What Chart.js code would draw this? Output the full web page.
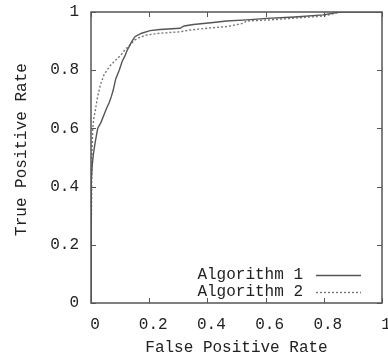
<!DOCTYPE html>
<html><head><meta charset="utf-8">
<script src="https://cdn.jsdelivr.net/npm/chart.js@4/dist/chart.umd.min.js"></script>
<style>html,body{margin:0;padding:0;background:#fff}#wrap{width:388px;height:358px;position:relative}</style>
</head><body><div id="wrap"><canvas id="c" width="388" height="358"></canvas></div>
<script>
const seriesLabels = ['Algorithm 1', 'Algorithm 2'];
const xTitle = 'False Positive Rate';
const yTitle = 'True Positive Rate';
const xTicks = [0, 0.2, 0.4, 0.6, 0.8, 1];
const yTicks = [0, 0.2, 0.4, 0.6, 0.8, 1];

const algo1FPR = [0, 0, 0.002, 0.004, 0.008, 0.014, 0.023, 0.034, 0.046, 0.054, 0.063, 0.07, 0.076, 0.085, 0.097, 0.107, 0.117, 0.125, 0.14, 0.151, 0.174, 0.203, 0.237, 0.306, 0.32, 0.352, 0.42, 0.466, 0.535, 0.604, 0.70, 0.798, 0.856, 1];
const algo1TPR = [0, 0.3, 0.42, 0.47, 0.51, 0.55, 0.60, 0.62, 0.65, 0.67, 0.69, 0.71, 0.73, 0.77, 0.80, 0.83, 0.85, 0.87, 0.898, 0.915, 0.927, 0.936, 0.94, 0.944, 0.952, 0.957, 0.964, 0.969, 0.973, 0.978, 0.983, 0.99, 1.0, 1];

const algo2FPR = [0, 0, 0.002, 0.003, 0.006, 0.009, 0.015, 0.022, 0.033, 0.045, 0.055, 0.068, 0.085, 0.103, 0.118, 0.134, 0.151, 0.168, 0.191, 0.237, 0.306, 0.34, 0.397, 0.466, 0.523, 0.535, 0.615, 0.70, 0.798, 0.856, 1];
const algo2TPR = [0, 0.2, 0.35, 0.5, 0.6, 0.63, 0.663, 0.705, 0.752, 0.785, 0.80, 0.818, 0.835, 0.852, 0.872, 0.887, 0.904, 0.913, 0.921, 0.927, 0.932, 0.938, 0.944, 0.95, 0.961, 0.969, 0.973, 0.979, 0.986, 1.0, 1];

const FONT = '"Liberation Mono", "Courier New", monospace';
const TEXT = '#222';
const FRAME = '#555';

function pts(xs, ys) { return xs.map((x, i) => ({x: x, y: ys[i]})); }
function fmt(v) { return (v === 0 || v === 1) ? String(v) : v.toFixed(1); }
function noPad(s) { s.paddingLeft = 0; s.paddingRight = 0; s.paddingTop = 0; s.paddingBottom = 0; }

const framePlugin = {
  id: 'gnuplotFrame',
  afterDraw(chart) {
    const ctx = chart.ctx, a = chart.chartArea;
    const xs = chart.scales.x, ys = chart.scales.y;
    ctx.save();
    ctx.strokeStyle = FRAME;
    ctx.lineWidth = 1.5;
    ctx.strokeRect(a.left, a.top, a.right - a.left, a.bottom - a.top);
    ctx.lineWidth = 1;
    const tl = 5;
    ctx.beginPath();
    xTicks.forEach(v => {
      const px = Math.round(xs.getPixelForValue(v)) + 0.5;
      ctx.moveTo(px, a.bottom); ctx.lineTo(px, a.bottom - tl);
      ctx.moveTo(px, a.top); ctx.lineTo(px, a.top + tl);
    });
    yTicks.forEach(v => {
      const py = Math.round(ys.getPixelForValue(v)) + 0.5;
      ctx.moveTo(a.left, py); ctx.lineTo(a.left + tl, py);
      ctx.moveTo(a.right, py); ctx.lineTo(a.right - tl, py);
    });
    ctx.stroke();

    ctx.fillStyle = TEXT;
    ctx.font = '16px ' + FONT;
    ctx.textAlign = 'center';
    ctx.textBaseline = 'middle';
    ctx.fillText(xTitle, (a.left + a.right) / 2, chart.height - 10);
    ctx.save();
    ctx.translate(22, (a.top + a.bottom) / 2 - 8);
    ctx.rotate(-Math.PI / 2);
    ctx.fillText(yTitle, 0, 0);
    ctx.restore();

    const sampleEnd = a.right - 21, sampleStart = sampleEnd - 45, textRight = sampleStart - 13;
    chart.data.datasets.forEach((ds, i) => {
      const y = a.bottom - 28 + i * 17;
      ctx.textAlign = 'right';
      ctx.fillStyle = TEXT;
      ctx.fillText(ds.label, textRight, y);
      ctx.strokeStyle = ds.borderColor;
      ctx.lineWidth = ds.borderWidth;
      ctx.setLineDash(ds.borderDash || []);
      ctx.beginPath();
      ctx.moveTo(sampleStart, y + 0.5); ctx.lineTo(sampleEnd, y + 0.5);
      ctx.stroke();
      ctx.setLineDash([]);
    });
    ctx.restore();
  }
};

new Chart(document.getElementById('c'), {
  type: 'scatter',
  data: {
    datasets: [
      { label: seriesLabels[0], data: pts(algo1FPR, algo1TPR), showLine: true, borderColor: '#555', borderWidth: 1.4, pointRadius: 0, tension: 0, fill: false },
      { label: seriesLabels[1], data: pts(algo2FPR, algo2TPR), showLine: true, borderColor: '#777', borderWidth: 1.4, borderDash: [2, 2], pointRadius: 0, tension: 0, fill: false }
    ]
  },
  options: {
    responsive: false,
    animation: false,
    devicePixelRatio: 1,
    layout: { autoPadding: false, padding: { top: 12, right: 6, left: 0, bottom: 0 } },
    plugins: { legend: { display: false }, tooltip: { enabled: false } },
    scales: {
      x: {
        type: 'linear', min: 0, max: 1,
        afterBuildTicks: s => { s.ticks = xTicks.map(v => ({value: v})); },
        afterFit: s => { s.height = 55; noPad(s); },
        grid: { display: false, drawTicks: false },
        border: { display: false },
        ticks: { callback: v => fmt(v), font: { family: FONT, size: 16 }, color: TEXT, padding: 12, labelOffset: 4, maxRotation: 0, autoSkip: false }
      },
      y: {
        type: 'linear', min: 0, max: 1,
        afterBuildTicks: s => { s.ticks = yTicks.map(v => ({value: v})); },
        afterFit: s => { s.width = 91; noPad(s); },
        grid: { display: false, drawTicks: false },
        border: { display: false },
        ticks: { callback: v => fmt(v), font: { family: FONT, size: 16 }, color: TEXT, padding: 12, autoSkip: false }
      }
    }
  },
  plugins: [framePlugin]
});
</script>
</body></html>
